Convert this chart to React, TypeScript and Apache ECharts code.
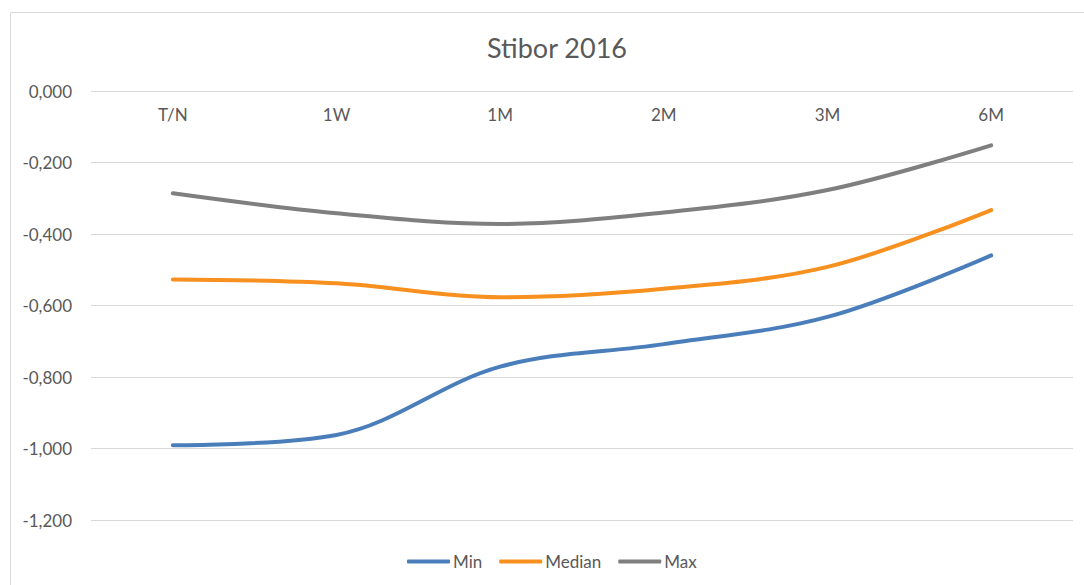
import React, { useEffect, useRef } from "react";
import * as echarts from "echarts";

const categories = ["T/N", "1W", "1M", "2M", "3M", "6M"];
const minValues = [-0.991, -0.962, -0.771, -0.708, -0.632, -0.46];
const medianValues = [-0.527, -0.538, -0.577, -0.553, -0.492, -0.333];
const maxValues = [-0.286, -0.342, -0.372, -0.34, -0.277, -0.152];
const seriesNames = ["Min", "Median", "Max"];
const colors = ["#4a7ebb", "#f7901e", "#7f7f7f"];

const FONT = "Lato, 'Open Sans', sans-serif";
const TEXT = "#595959";

export default function App() {
  const ref = useRef<HTMLDivElement>(null);
  useEffect(() => {
    if (!ref.current) return;
    const chart = echarts.init(ref.current, undefined, { renderer: "svg" });
    const data = [minValues, medianValues, maxValues];
    chart.setOption({
      animation: false,
      textStyle: { fontFamily: FONT },
      title: {
        text: "Stibor 2016",
        left: 552,
        top: 29,
        textAlign: "center",
        textStyle: { fontFamily: FONT, fontSize: 27, fontWeight: "normal", color: TEXT },
      },
      graphic: [
        {
          type: "rect",
          shape: { x: 10.5, y: 12.5, width: 1100, height: 620 },
          style: { fill: "none", stroke: "#d9d9d9", lineWidth: 1 },
          silent: true,
        },
      ],
      legend: {
        left: 402,
        top: 548,
        itemWidth: 43,
        itemHeight: 4,
        itemGap: 17,
        icon: "roundRect",
        textStyle: { fontFamily: FONT, fontSize: 17, color: TEXT, padding: [0, 0, 0, -2] },
        data: seriesNames,
      },
      grid: { left: 91, right: 11, top: 91, bottom: 65, containLabel: false },
      xAxis: {
        type: "category",
        position: "top",
        data: categories,
        boundaryGap: true,
        axisLine: { show: false },
        axisTick: { show: false },
        axisLabel: { inside: true, margin: 15, fontSize: 17, color: TEXT, fontFamily: FONT },
        splitLine: { show: false },
      },
      yAxis: {
        type: "value",
        min: -1.2,
        max: 0,
        interval: 0.2,
        axisLine: { show: false },
        axisTick: { show: false },
        axisLabel: {
          margin: 19,
          fontSize: 17,
          color: TEXT,
          fontFamily: FONT,
          formatter: (v: number) => {
            const s = Math.abs(v) < 1e-9 ? "0.000" : v.toFixed(3);
            return s.replace(".", ",");
          },
        },
        splitLine: { lineStyle: { color: "#d9d9d9", width: 1 } },
      },
      series: seriesNames.map((name, i) => ({
        name,
        type: "line",
        data: data[i],
        smooth: 0.35,
        symbol: "none",
        lineStyle: { color: colors[i], width: 4, cap: "round" },
        itemStyle: { color: colors[i] },
      })),
    });
    return () => chart.dispose();
  }, []);
  return <div ref={ref} style={{ width: 1084, height: 585, position: "absolute", left: 0, top: 0 }} />;
}
